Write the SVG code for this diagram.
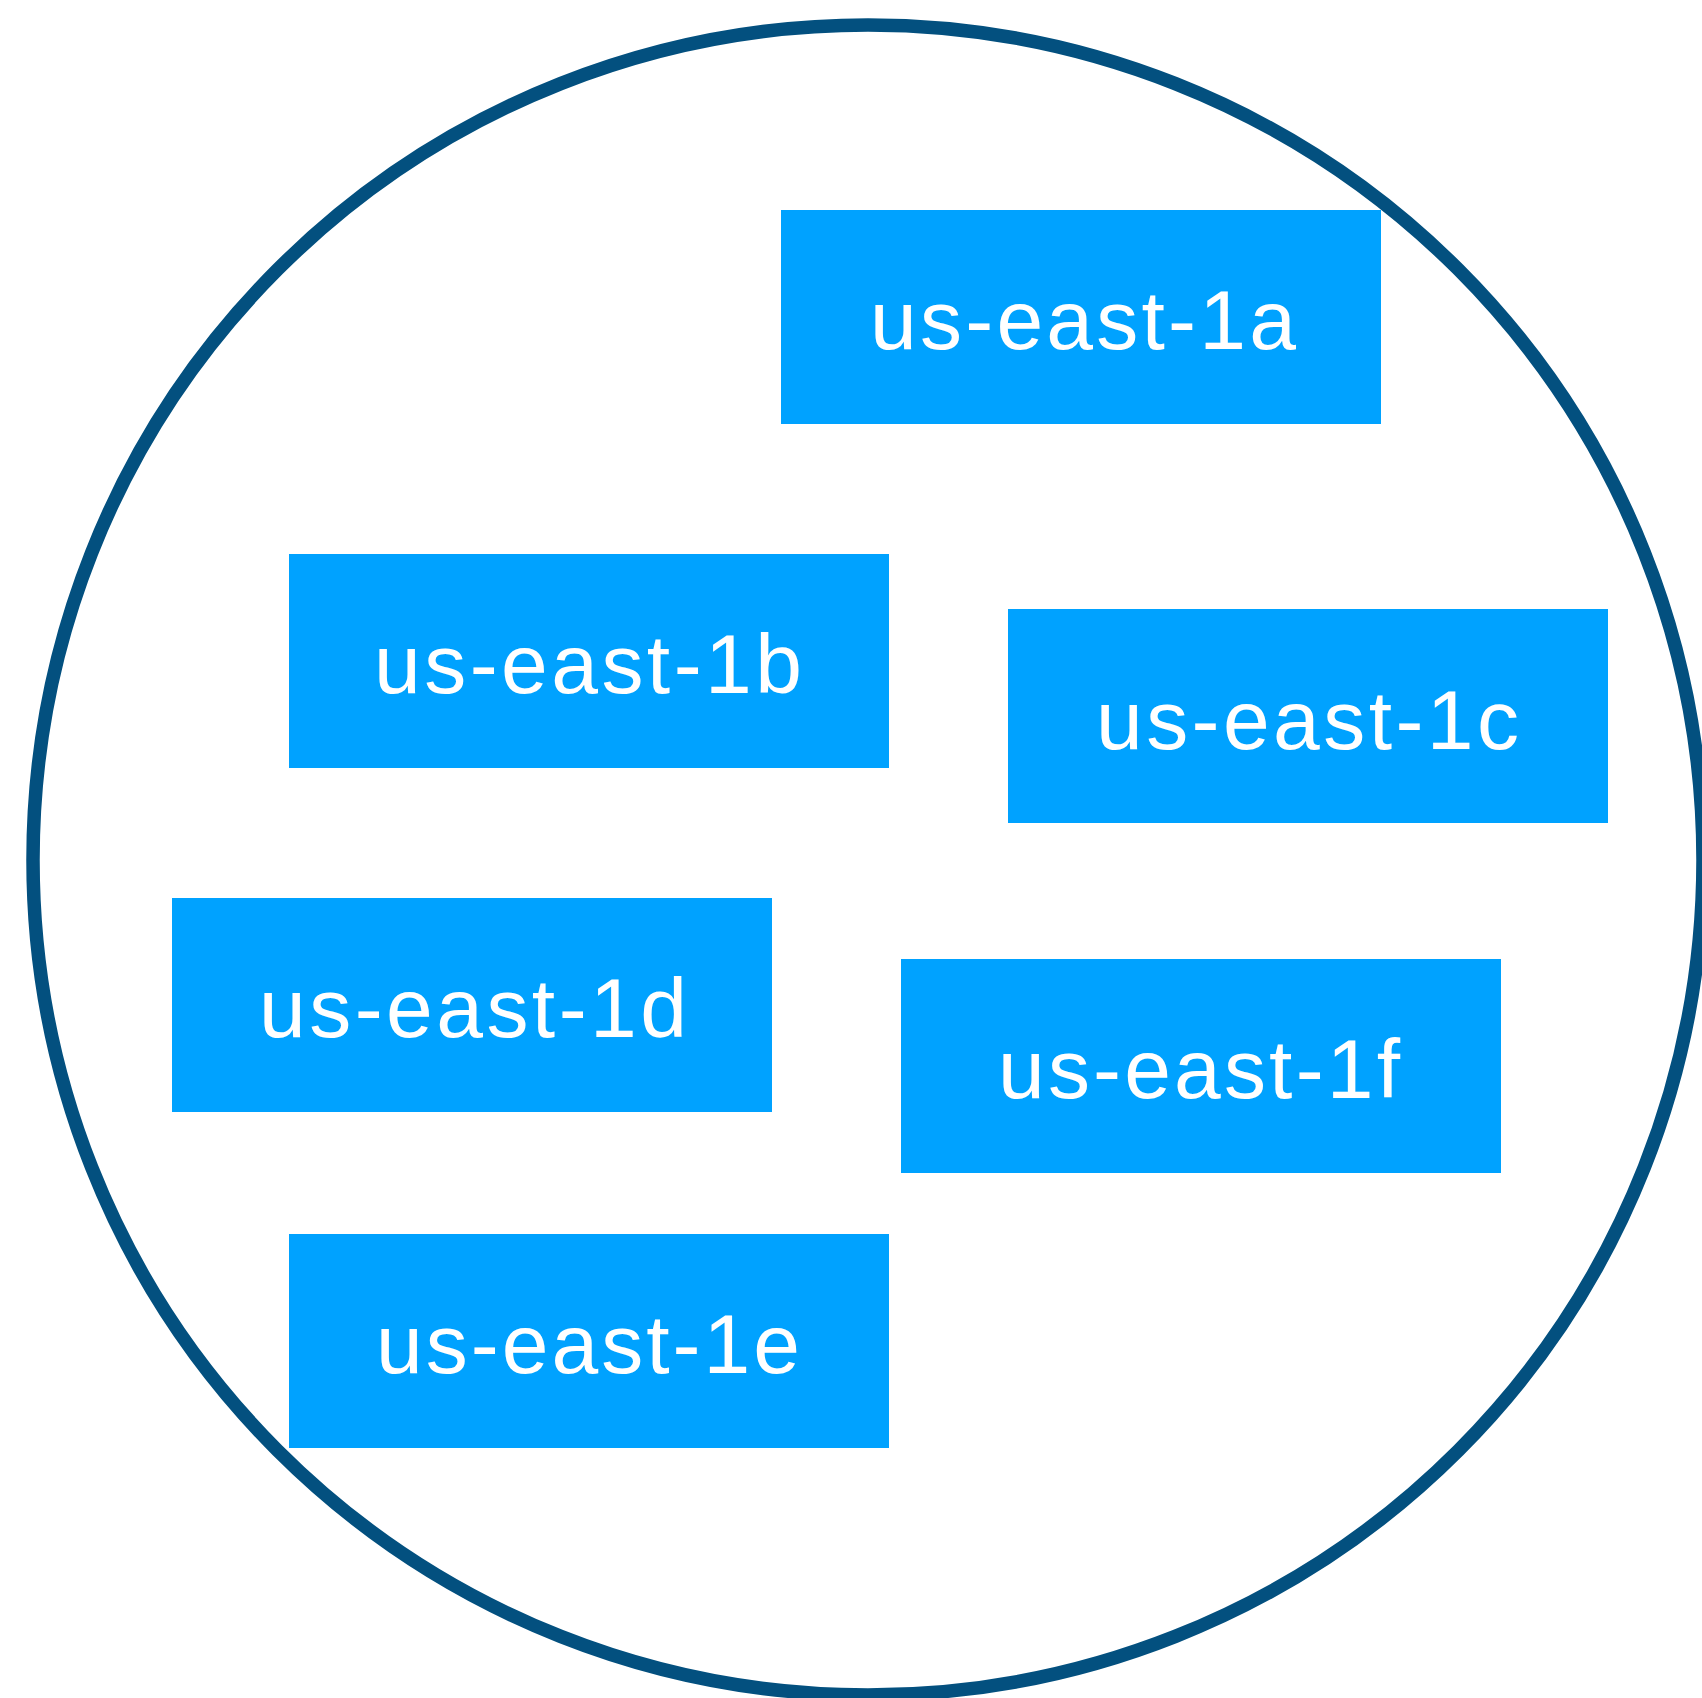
<svg xmlns="http://www.w3.org/2000/svg" width="1702" height="1698" viewBox="0 0 1702 1698">
  <style>
    .region { fill: none; stroke: #03507F; stroke-width: 13.5; }
    .az rect { fill: #00A2FF; }
    .az text { fill: #FFFFFF; font-family: "Liberation Sans", Arial, Helvetica, sans-serif; font-size: 84px; }
  </style>
  <rect width="1702" height="1698" fill="#FFFFFF"/>
  <!-- region boundary -->
  <g id="region">
    <circle class="region" cx="868" cy="860" r="835"/>
  </g>
  <!-- availability zones -->
  <g id="us-east-1a" class="az">
    <rect x="781" y="210" width="600" height="214"/>
    <text x="870" y="349" textLength="426">us-east-1a</text>
  </g>
  <g id="us-east-1b" class="az">
    <rect x="289" y="554" width="600" height="214"/>
    <text x="374" y="693" textLength="428">us-east-1b</text>
  </g>
  <g id="us-east-1c" class="az">
    <rect x="1008" y="609" width="600" height="214"/>
    <text x="1096" y="749" textLength="423">us-east-1c</text>
  </g>
  <g id="us-east-1d" class="az">
    <rect x="172" y="898" width="600" height="214"/>
    <text x="259" y="1037" textLength="428">us-east-1d</text>
  </g>
  <g id="us-east-1f" class="az">
    <rect x="901" y="959" width="600" height="214"/>
    <text x="998" y="1098" textLength="402">us-east-1f</text>
  </g>
  <g id="us-east-1e" class="az">
    <rect x="289" y="1234" width="600" height="214"/>
    <text x="376" y="1373" textLength="424">us-east-1e</text>
  </g>
</svg>
